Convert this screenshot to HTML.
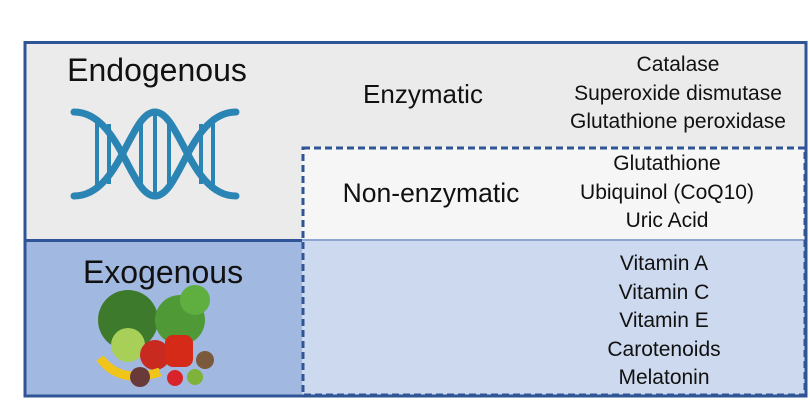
<!DOCTYPE html>
<html><head><meta charset="utf-8"><style>
body{margin:0;width:810px;height:406px;background:#fff;position:relative;overflow:hidden;font-family:"Liberation Sans",Carlito,sans-serif;}
.a{position:absolute}
.t{position:absolute;color:#111;white-space:nowrap;transform:translateX(-50%);}
.l{font-size:21px;line-height:28.5px;text-align:center}
</style></head><body>
<div class="a" style="left:24px;top:42px;width:783px;height:355px;background:#ebebeb;"></div>
<div class="a" style="left:24px;top:240px;width:278px;height:157px;background:#a1b8e0;"></div>
<div class="a" style="left:302px;top:147px;width:505px;height:93px;background:#f6f6f6;"></div>
<div class="a" style="left:302px;top:240px;width:505px;height:157px;background:#cdd9ef;"></div>
<div class="a" style="left:302px;top:239px;width:505px;height:2px;background:#8ea6cf;"></div>
<div class="a" style="left:24px;top:239px;width:278px;height:3px;background:#2f5597;"></div>
<svg class="a" style="left:0;top:0" width="810" height="406">
<rect x="303" y="148" width="502" height="247" fill="none" stroke="#2f5597" stroke-width="3" stroke-dasharray="7,4"/>
<rect x="25" y="42.5" width="781" height="353.5" fill="none" stroke="#2f5597" stroke-width="3"/>
<g stroke="#2a84b4" stroke-width="7" fill="none" stroke-linecap="round">
<path d="M74 112 C120 112,130 196,155 196 C180 196,190 112,236 112"/>
<path d="M74 196 C120 196,130 112,155 112 C180 112,190 196,236 196"/>
</g>
<g stroke="#2a84b4" stroke-width="4">
<line x1="97" y1="117" x2="97" y2="191"/><line x1="109" y1="124" x2="109" y2="184"/>
<line x1="141" y1="118" x2="141" y2="190"/><line x1="155" y1="114" x2="155" y2="194"/><line x1="169" y1="118" x2="169" y2="190"/>
<line x1="201" y1="124" x2="201" y2="184"/><line x1="213" y1="117" x2="213" y2="191"/>
</g>
<circle cx="128" cy="320" r="30" fill="#3d7a2c"/>
<circle cx="180" cy="320" r="25" fill="#4f9a36"/>
<circle cx="195" cy="300" r="15" fill="#5fae40"/>
<circle cx="128" cy="345" r="17" fill="#a8cf58"/>
<circle cx="155" cy="355" r="15" fill="#c82a20"/>
<rect x="165" y="335" width="28" height="32" rx="8" fill="#d62a18"/>
<path d="M100 358 Q120 385 160 372" stroke="#f0c419" stroke-width="9" fill="none"/>
<circle cx="140" cy="377" r="10" fill="#6a3a3a"/>
<circle cx="175" cy="378" r="8" fill="#d8232a"/>
<circle cx="195" cy="377" r="8" fill="#7fb23a"/>
<circle cx="205" cy="360" r="9" fill="#7a5a3a"/>
</svg>
<div class="t" style="left:157px;top:52px;font-size:32px;">Endogenous</div>
<div class="t" style="left:163px;top:254px;font-size:32px;">Exogenous</div>
<div class="t" style="left:423px;top:79px;font-size:26px;">Enzymatic</div>
<div class="t" style="left:431px;top:178px;font-size:26.5px;">Non-enzymatic</div>
<div class="t l" style="left:678px;top:51px;">Catalase<br>Superoxide dismutase<br>Glutathione peroxidase</div>
<div class="t l" style="left:667px;top:150px;">Glutathione<br>Ubiquinol (CoQ10)<br>Uric Acid</div>
<div class="t l" style="left:664px;top:250px;">Vitamin A<br>Vitamin C<br>Vitamin E<br>Carotenoids<br>Melatonin</div>
</body></html>
